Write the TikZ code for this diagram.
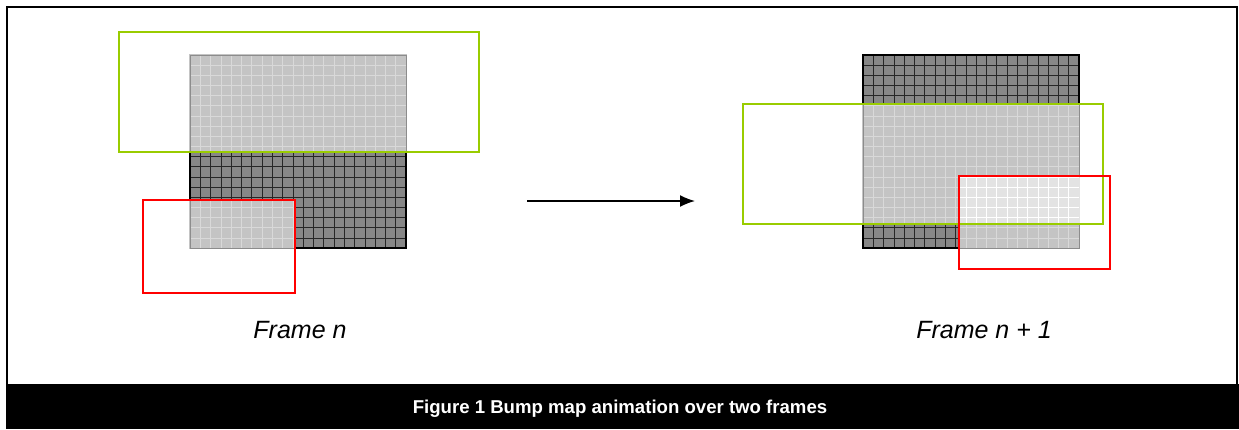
\documentclass[tikz,border=0pt]{standalone}
\usepackage{fontspec}
\setmainfont{Liberation Sans}
\usetikzlibrary{arrows.meta}
\definecolor{limeframe}{HTML}{99CC00}
\definecolor{redframe}{HTML}{FF0000}
\newcommand\gridlinesat[3]{% x0, y0, colour ; square 216 x 193
  \foreach \i in {1,...,20}{\draw[#3,line width=0.6pt] ({#1+\i*216/21},#2) -- ({#1+\i*216/21},{#2+193});}
  \foreach \j in {1,...,18}{\draw[#3,line width=0.6pt] (#1,{#2+\j*193/19}) -- ({#1+216},{#2+\j*193/19});}
}
\tikzset{
  darkfill/.style={fill=black!47},
  lightfill/.style={fill=black!23},
  xlightfill/.style={fill=black!11},
  greenbox/.style={draw=limeframe,line width=2pt},
  redbox/.style={draw=redframe,line width=2pt},
  framelabel/.style={anchor=base,font=\fontsize{25}{30}\selectfont\itshape},
  captiontext/.style={anchor=base,text=white,font=\fontsize{18.6}{22}\selectfont\bfseries},
  flowarrow/.style={-{Latex[length=15pt,width=12pt]},line width=1.6pt}
}
\begin{document}
\begin{tikzpicture}[x=1pt,y=-1pt]
\useasboundingbox (0,0) rectangle (1239,429);
\fill[white] (0,0) rectangle (1239,429);
% outer frame and caption bar
\draw[line width=2pt] (7,384) -- (7,7) -- (1237,7) -- (1237,384);
\fill[black] (6,384) rectangle (1239,429);
\node[captiontext] (cap) at (620,413) {Figure 1 Bump map animation over two frames};

% ---------- Frame n ----------
\fill[darkfill] (190,55) rectangle (406,248);
\gridlinesat{190}{55}{black!85}
\draw[line width=1.6pt] (190,55) rectangle (406,248);
\begin{scope}
  \clip (189,54) rectangle (407,152) (189,200) rectangle (295,249);
  \fill[lightfill] (189,54) rectangle (407,249);
  \gridlinesat{190}{55}{white!85!black}
  \draw[black!45,line width=1pt] (190,55) rectangle (406,248);
\end{scope}
\draw[greenbox] (119,32) rectangle (479,152);
\draw[redbox] (143,200) rectangle (295,293);
\node[framelabel] (lab1) at (300,338) {Frame n};

% arrow
\coordinate (a1) at (527,201);
\coordinate (a2) at (695,201);
\draw[flowarrow] (a1) -- (a2);

% ---------- Frame n + 1 ----------
\fill[darkfill] (863,55) rectangle (1079,248);
\gridlinesat{863}{55}{black!85}
\draw[line width=1.6pt] (863,55) rectangle (1079,248);
\begin{scope}
  \clip (862,104) rectangle (1080,224) (959,176) rectangle (1080,249);
  \fill[lightfill] (862,54) rectangle (1080,249);
  \gridlinesat{863}{55}{white!85!black}
  \draw[black!45,line width=1pt] (863,55) rectangle (1079,248);
\end{scope}
\begin{scope}
  \clip (959,176) rectangle (1080,224);
  \fill[xlightfill] (959,176) rectangle (1080,224);
  \gridlinesat{863}{55}{white}
\end{scope}
\draw[greenbox] (743,104) rectangle (1103,224);
\draw[redbox] (959,176) rectangle (1110,269);
\node[framelabel] (lab2) at (984,338) {Frame n + 1};
\end{tikzpicture}
\end{document}
